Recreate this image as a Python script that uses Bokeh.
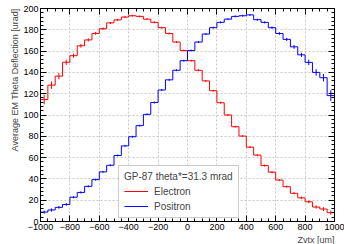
from bokeh.plotting import figure
from bokeh.models import (ColumnDataSource, SingleIntervalTicker, LinearAxis, Legend,
                          LegendItem, Title, Range1d, CustomLabelingPolicy)
from bokeh.embed import file_html
from bokeh.resources import INLINE

# ---- data ----
bin_width = 50
bin_low = list(range(-1000, 1000, bin_width))

electron = [114.5, 128.0, 136.5, 149.5, 155.7, 165.0, 170.5, 176.6, 181.0, 186.5,
            189.3, 192.0, 193.2, 192.6, 190.0, 187.0, 182.0, 176.5, 168.5, 160.5,
            151.0, 142.0, 132.0, 122.8, 111.5, 100.0, 89.0, 80.2, 69.8, 62.3,
            52.5, 46.3, 38.9, 32.7, 26.5, 22.2, 18.5, 13.6, 11.7, 8.3]
electron_err = [4.5, 3.5, 3.0, 2.5, 2.0, 1.8, 1.5, 1.3, 1.2, 1.0,
                1.0, 1.0, 0.9, 0.9, 0.9, 0.9, 0.9, 0.9, 0.9, 0.9,
                0.9, 0.9, 0.9, 0.9, 0.9, 0.9, 0.9, 0.9, 0.9, 1.0,
                1.0, 1.0, 1.0, 1.0, 1.0, 1.2, 1.3, 1.5, 1.8, 2.0]

positron = [8.8, 10.8, 13.3, 16.0, 22.8, 27.3, 33.0, 39.3, 46.6, 52.8,
            62.0, 71.0, 79.6, 90.0, 100.6, 111.7, 123.5, 133.0, 142.0, 151.0,
            160.5, 168.5, 176.0, 182.0, 187.0, 190.0, 192.6, 193.2, 194.0, 189.5,
            187.0, 182.0, 176.5, 171.0, 164.0, 156.5, 149.4, 140.0, 135.0, 118.2]
positron_err = [1.5, 1.5, 1.3, 1.2, 1.0, 1.0, 1.0, 1.0, 0.9, 0.9,
                0.9, 0.9, 0.9, 0.9, 0.9, 0.9, 0.9, 0.9, 0.9, 0.9,
                0.9, 0.9, 0.9, 0.9, 0.9, 0.9, 0.9, 0.9, 0.9, 1.0,
                1.0, 1.2, 1.3, 1.5, 1.8, 2.0, 2.5, 3.0, 3.5, 5.0]

x_ticks = [-1000, -800, -600, -400, -200, 0, 200, 400, 600, 800, 1000]
x_tick_labels = ["\u22121000", "\u2212800", "\u2212600", "\u2212400", "\u2212200",
                 "0", "200", "400", "600", "800", "1000"]
y_ticks = [0, 20, 40, 60, 80, 100, 120, 140, 160, 180, 200]
legend_header = "GP-87 theta*=31.3 mrad"
series_names = ["Electron", "Positron"]
x_title = "Zvtx [um]"
y_title = "Average EM Theta Deflection [urad]"

FONT = "Liberation Sans"
RED = "#ff0000"
BLUE = "#0000ff"

p = figure(width=344, height=244, output_backend="svg", toolbar_location=None,
           x_range=Range1d(-1000, 1000), y_range=Range1d(0, 200),
           min_border_left=40, min_border_right=10, min_border_top=8,
           min_border_bottom=0)
p.background_fill_color = "white"
p.border_fill_color = "white"
p.outline_line_color = "black"

def step_source(vals):
    xs, ys = [], []
    for lo, v in zip(bin_low, vals):
        xs += [lo, lo + bin_width]
        ys += [v, v]
    return ColumnDataSource(dict(x=xs, y=ys))

centers = [b + bin_width / 2 for b in bin_low]

r_e = p.line("x", "y", source=step_source(electron), line_color=RED, line_width=1)
p.segment(x0=centers, x1=centers,
          y0=[v - e for v, e in zip(electron, electron_err)],
          y1=[v + e for v, e in zip(electron, electron_err)],
          line_color=RED, line_width=1)

r_p = p.line("x", "y", source=step_source(positron), line_color=BLUE, line_width=1)
p.segment(x0=centers, x1=centers,
          y0=[v - e for v, e in zip(positron, positron_err)],
          y1=[v + e for v, e in zip(positron, positron_err)],
          line_color=BLUE, line_width=1)

xt = SingleIntervalTicker(interval=200, num_minor_ticks=4)
yt = SingleIntervalTicker(interval=20, num_minor_ticks=5)

hide_labels = CustomLabelingPolicy(code="""
const all = [];
for (const i of indices) all.push(i);
for (const i of all) indices.unset(i);
return indices;
""")

def style_axis(ax, ticker, labels=True, ticks=None):
    ax.ticker = ticker
    ax.axis_line_color = "black"
    ax.major_tick_in = 6
    ax.major_tick_out = 0
    ax.minor_tick_in = 3
    ax.minor_tick_out = 0
    ax.major_tick_line_color = "black"
    ax.minor_tick_line_color = "black"
    ax.major_label_text_font = FONT
    ax.major_label_text_color = "black"
    ax.axis_label = None
    if labels:
        ax.major_label_text_font_size = "9px"
        ax.major_label_standoff = 2
    else:
        ax.major_label_text_font_size = "1px"
        ax.major_label_standoff = 0
        ax.major_label_overrides = {t: "" for t in ticks}
        ax.major_label_policy = hide_labels

for ax in p.xaxis:
    style_axis(ax, xt)
    ax.major_label_overrides = {t: s for t, s in zip(x_ticks, x_tick_labels)}
for ax in p.yaxis:
    style_axis(ax, yt)

top = LinearAxis()
style_axis(top, xt, labels=False, ticks=x_ticks)
p.add_layout(top, "above")
right = LinearAxis()
style_axis(right, yt, labels=False, ticks=y_ticks)
p.add_layout(right, "right")

for g in (p.xgrid, p.ygrid):
    g.grid_line_color = "#c8c8c8"
    g.grid_line_dash = "2 2"
    g.grid_line_width = 1
p.xgrid.ticker = xt
p.ygrid.ticker = yt

p.add_layout(Title(text=y_title, align="right", text_font=FONT, text_font_size="9px",
                   text_font_style="normal", standoff=2, offset=0), "left")
p.add_layout(Title(text=x_title, align="right", text_font=FONT, text_font_size="9px",
                   text_font_style="normal", standoff=0, offset=0), "below")

legend = Legend(items=[LegendItem(label=series_names[0], renderers=[r_e]),
                       LegendItem(label=series_names[1], renderers=[r_p])],
                title=legend_header, location=(78, 3))
legend.title_text_font = FONT
legend.title_text_font_size = "10px"
legend.title_text_font_style = "normal"
legend.title_standoff = 3
legend.label_text_font = FONT
legend.label_text_font_size = "10px"
legend.glyph_width = 24
legend.glyph_height = 12
legend.label_height = 12
legend.label_standoff = 6
legend.spacing = 3
legend.padding = 5
legend.margin = 0
legend.border_line_color = "#999999"
legend.border_line_width = 1
legend.background_fill_color = "white"
legend.background_fill_alpha = 1.0
p.add_layout(legend)

open("out.html", "w").write(file_html(p, INLINE))
